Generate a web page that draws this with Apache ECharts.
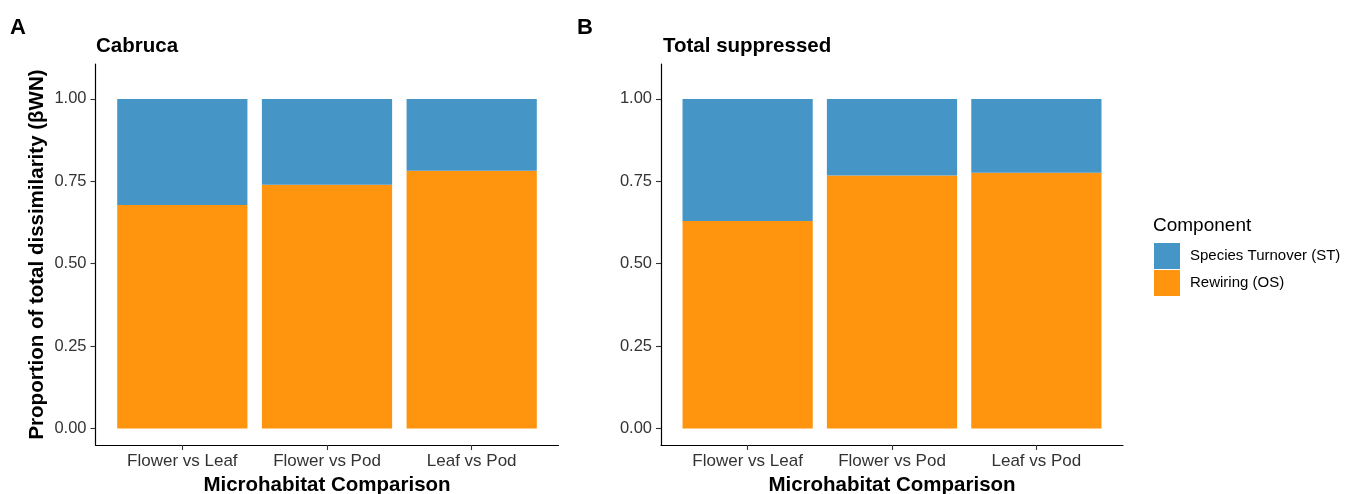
<!DOCTYPE html>
<html>
<head>
<meta charset="utf-8">
<script src="https://cdn.jsdelivr.net/npm/echarts@6/dist/echarts.min.js"></script>
<style>
html,body{margin:0;padding:0;background:#fff;overflow:hidden;}
#chart{width:1345px;height:494px;}
</style>
</head>
<body>
<div id="chart"></div>
<script>
// ---- data ----
var categories = ['Flower vs Leaf', 'Flower vs Pod', 'Leaf vs Pod'];
var panelTitles = ['Cabruca', 'Total suppressed'];
var panelTags = ['A', 'B'];
var seriesNames = ['Species Turnover (ST)', 'Rewiring (OS)'];
var rewiringA = [0.678, 0.740, 0.782];
var turnoverA = [0.322, 0.260, 0.218];
var rewiringB = [0.630, 0.768, 0.776];
var turnoverB = [0.370, 0.232, 0.224];
var yTicks = [0, 0.25, 0.5, 0.75, 1];

var FONT = 'Liberation Sans, Arial, Helvetica, sans-serif';
var BLUE = '#4695c7';
var ORANGE = '#ff950e';
var GRID_W = 463;
var BAR_W = 0.9 * GRID_W / 3.2;
var xPos = categories.map(function (c, i) { return i + 1; });

// value first, position second (encode maps them)
function pairs(vals) { return vals.map(function (v, i) { return [v, xPos[i]]; }); }

var grids = [
  {left: 95.5, top: 64, width: GRID_W, height: 381, outerBoundsMode: 'none', containLabel: false},
  {left: 661, top: 64, width: GRID_W - 1, height: 381, outerBoundsMode: 'none', containLabel: false}
];

function xAxis(gi) {
  return {
    type: 'value', gridIndex: gi, min: 0.4, max: 3.6,
    name: 'Microhabitat Comparison', nameLocation: 'middle', nameGap: 28,
    nameTextStyle: {fontFamily: FONT, fontWeight: 'bold', fontSize: 20.5, color: '#000'},
    axisLine: {show: true, onZero: false, lineStyle: {color: '#000', width: 1.2}},
    axisTick: {show: true, customValues: xPos, length: 5, lineStyle: {color: '#333', width: 1.1}},
    axisLabel: {show: true, customValues: xPos, margin: 8, fontFamily: FONT, fontSize: 17, color: '#333',
      formatter: function (v) { return categories[Math.round(v) - 1] || ''; }},
    splitLine: {show: false}
  };
}
function yAxis(gi, named) {
  return {
    type: 'value', gridIndex: gi, min: -0.05, max: 1.106,
    name: named ? 'Proportion of total dissimilarity (\u03B2WN)' : '',
    nameLocation: 'middle', nameRotate: 90, nameGap: 48,
    nameTextStyle: {fontFamily: FONT, fontWeight: 'bold', fontSize: 20.5, color: '#000'},
    axisLine: {show: true, onZero: false, lineStyle: {color: '#000', width: 1.2}},
    axisTick: {show: true, customValues: yTicks, length: 5, lineStyle: {color: '#333', width: 1.1}},
    axisLabel: {show: true, customValues: yTicks, margin: 9, fontFamily: FONT, fontSize: 16.5, color: '#333',
      formatter: function (v) { return v.toFixed(2); }},
    splitLine: {show: false}
  };
}

var rew = [rewiringA, rewiringB];
var tur = [turnoverA, turnoverB];
var series = [];
[0, 1].forEach(function (gi) {
  series.push({
    name: seriesNames[1], type: 'bar', xAxisIndex: gi, yAxisIndex: gi, stack: 's' + gi,
    encode: {x: 1, y: 0},
    barWidth: BAR_W, data: pairs(rew[gi]), itemStyle: {color: ORANGE}, emphasis: {disabled: true}
  });
  series.push({
    name: seriesNames[0], type: 'bar', xAxisIndex: gi, yAxisIndex: gi, stack: 's' + gi,
    encode: {x: 1, y: 0},
    barWidth: BAR_W, data: pairs(tur[gi]), itemStyle: {color: BLUE}, emphasis: {disabled: true}
  });
});

var chart = echarts.init(document.getElementById('chart'), null, {renderer: 'canvas'});
chart.setOption({
  animation: false,
  backgroundColor: '#fff',
  textStyle: {fontFamily: FONT},
  title: [
    {text: panelTags[0], left: 10, top: 17, padding: 0, textStyle: {fontFamily: FONT, fontWeight: 'bold', fontSize: 22, color: '#000'}},
    {text: panelTitles[0], left: 96, top: 36, padding: 0, textStyle: {fontFamily: FONT, fontWeight: 'bold', fontSize: 20.5, color: '#000'}},
    {text: panelTags[1], left: 577, top: 17, padding: 0, textStyle: {fontFamily: FONT, fontWeight: 'bold', fontSize: 22, color: '#000'}},
    {text: panelTitles[1], left: 663, top: 36, padding: 0, textStyle: {fontFamily: FONT, fontWeight: 'bold', fontSize: 20.5, color: '#000'}},
    {text: 'Component', left: 1153, top: 216, padding: 0, textStyle: {fontFamily: FONT, fontWeight: 'normal', fontSize: 19, color: '#000'}}
  ],
  legend: {
    orient: 'vertical', left: 1154, top: 243, itemWidth: 26, itemHeight: 26, itemGap: 1,
    data: seriesNames, selectedMode: false,
    icon: 'rect',
    textStyle: {fontFamily: FONT, fontSize: 15, color: '#000', padding: [2, 0, 0, 5]},
    padding: 0
  },
  grid: grids,
  xAxis: [xAxis(0), xAxis(1)],
  yAxis: [yAxis(0, true), yAxis(1, false)],
  series: series
});
</script>
</body>
</html>
